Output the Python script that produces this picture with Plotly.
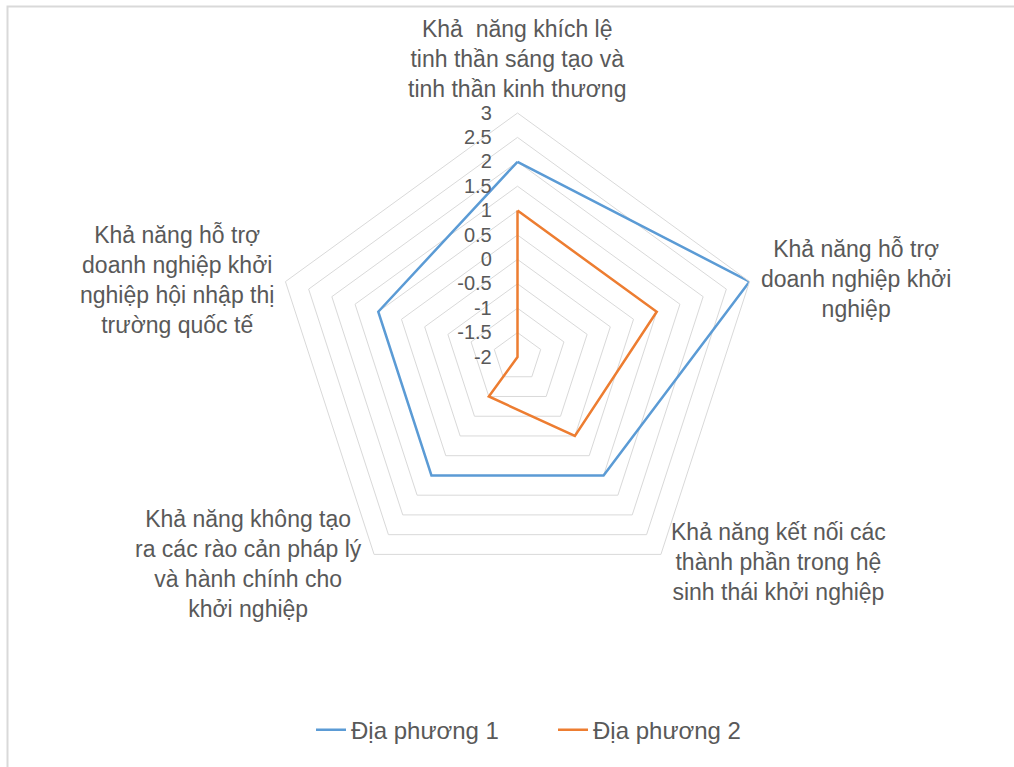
import plotly.graph_objects as go

categories = [
    "Khả  năng khích lệ<br>tinh thần sáng tạo và<br>tinh thần kinh thương",
    "Khả năng hỗ trợ<br>doanh nghiệp khởi<br>nghiệp",
    "Khả năng kết nối các<br>thành phần trong hệ<br>sinh thái khởi nghiệp",
    "Khả năng không tạo<br>ra các rào cản pháp lý<br>và hành chính cho<br>khởi nghiệp",
    "Khả năng hỗ trợ<br>doanh nghiệp khởi<br>nghiệp hội nhập thị<br>trường quốc tế",
]
theta_keys = ["c1", "c2", "c3", "c4", "c5"]
series_names = ["Địa phương 1", "Địa phương 2"]
dia_phuong_1 = [2, 3, 1, 1, 1]
dia_phuong_2 = [1, 1, 0, -1, -2]
radial_ticks = [-2, -1.5, -1, -0.5, 0, 0.5, 1, 1.5, 2, 2.5, 3]
colors = ["#5B9BD5", "#ED7D31"]

W, H = 1014, 767
cx, cy, R = 517.5, 357, 244

pad = '<span style="color:rgba(0,0,0,0)">00</span>'

fig = go.Figure()
for name, vals, col in zip(series_names, [dia_phuong_1, dia_phuong_2], colors):
    fig.add_trace(go.Scatterpolar(
        r=vals + vals[:1], theta=theta_keys + theta_keys[:1],
        mode="lines", name=name, line=dict(color=col, width=2.5),
    ))

fig.update_layout(
    width=W, height=H,
    margin=dict(l=0, r=0, t=0, b=0),
    paper_bgcolor="white", plot_bgcolor="white",
    font=dict(family="Liberation Sans, Arial, sans-serif", color="#595959"),
    polar=dict(
        domain=dict(x=[(cx - R) / W, (cx + R) / W], y=[(H - cy - R) / H, (H - cy + R) / H]),
        bgcolor="white",
        gridshape="linear",
        radialaxis=dict(
            range=[-2, 3], tickvals=radial_ticks,
            ticktext=[f"{v:g}" + pad for v in radial_ticks],
            angle=90, side="counterclockwise", tickangle=90,
            showline=False, ticks="", gridcolor="#D9D9D9", gridwidth=1,
            tickfont=dict(size=20, color="#595959"),
        ),
        angularaxis=dict(
            categoryarray=theta_keys, categoryorder="array",
            rotation=90, direction="clockwise",
            showgrid=False, showticklabels=False, ticks="",
            showline=True, linecolor="#D9D9D9", linewidth=1,
        ),
    ),
    legend=dict(orientation="h", x=(298 + 13) / W, xanchor="left", y=0.048, yanchor="middle",
                font=dict(size=24, color="#595959"),
                entrywidth=197, entrywidthmode="pixels"),
    showlegend=True,
)

label_pos = [(517, 59), (856, 279), (778, 562), (248, 564), (177, 280)]
for text, (x, y) in zip(categories, label_pos):
    fig.add_annotation(x=x / W, y=1 - y / H, xref="paper", yref="paper",
                       text=text, showarrow=False, align="center",
                       xanchor="center", yanchor="middle",
                       font=dict(size=23, color="#595959"))

fig.add_shape(type="rect", xref="paper", yref="paper",
              x0=7.5 / W, x1=1.05, y0=-0.05, y1=1 - 6.5 / H,
              line=dict(color="#D9D9D9", width=2), layer="below")

fig.write_html("out.html")
